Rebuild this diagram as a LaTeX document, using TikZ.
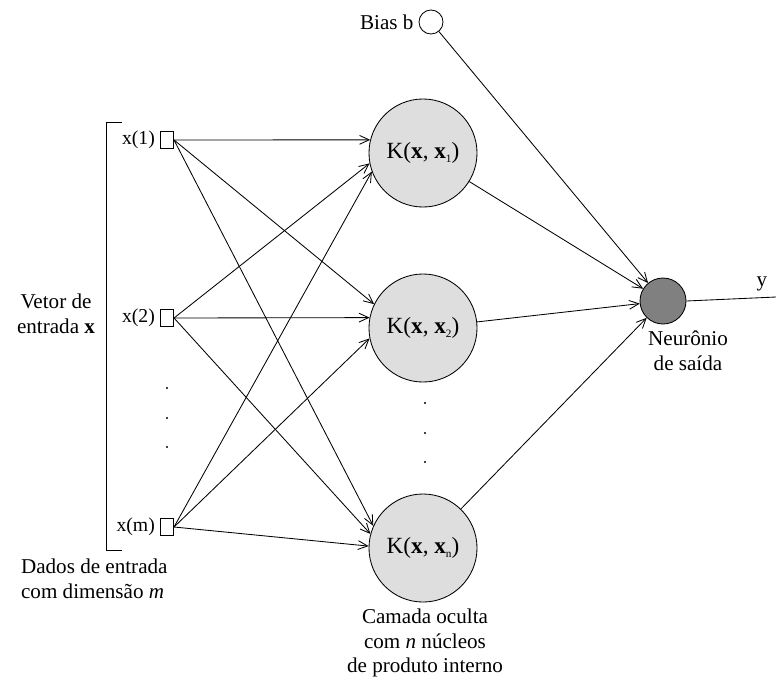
\documentclass[tikz,border=0pt]{standalone}
\usepackage{fontspec}
\setmainfont{Liberation Serif}
\usetikzlibrary{arrows.meta}
\newcommand{\indice}[1]{\raisebox{-0.35ex}{\fontsize{8}{8}\selectfont #1}}
\begin{document}
\begin{tikzpicture}[x=0.025cm, y=-0.025cm,
    line width=0.6pt,
    >={Straight Barb[length=2.4mm,width=2.2mm]},
    entrada/.style={draw, rectangle, minimum width=0.33cm, minimum height=0.41cm, inner sep=0pt},
    nucleo/.style={draw, circle, fill=black!13, minimum size=2.7cm, inner sep=0pt, font=\fontsize{16.5}{18}\selectfont},
    rotulo/.style={font=\fontsize{15}{17.5}\selectfont, align=center}]
    \useasboundingbox (0, 0) rectangle (776, 686);

    % Input vector
    \node[entrada] (in1) at (167, 140) {};
    \node[entrada] (in2) at (167, 318) {};
    \node[entrada] (inm) at (167, 527) {};
    \node[rotulo, anchor=east, font=\fontsize{14}{16}\selectfont] at (in1.west) {x(1)};
    \node[rotulo, anchor=east, font=\fontsize{14}{16}\selectfont] at (in2.west) {x(2)};
    \node[rotulo, anchor=east, font=\fontsize{14}{16}\selectfont] at (inm.west) {x(m)};
    \foreach \y in {388, 418, 447} {
        \fill (167, \y) circle (1.2);
    }

    % Bracket
    \draw (122, 122) -- (106, 122) -- (106, 550) -- (122, 550);
    \node[rotulo] at (56, 314) {Vetor de\\entrada \textbf{x}};
    \node[rotulo, align=left, anchor=north west] at (16, 554) {Dados de entrada\\com dimensão \textit{m}};

    % Hidden layer
    \node[nucleo] (k1) at (423, 153) {K(\textbf{x}, \textbf{x}\indice{1})};
    \node[nucleo] (k2) at (423, 328) {K(\textbf{x}, \textbf{x}\indice{2})};
    \node[nucleo] (kn) at (423, 548) {K(\textbf{x}, \textbf{x}\indice{n})};
    \foreach \y in {403, 433, 462} {
        \fill (425, \y) circle (1.2);
    }
    \node[rotulo, anchor=north] at (425, 604) {Camada oculta\\com \textit{n} núcleos\\de produto interno};

    % Input -> hidden
    \draw[->] (in1.east) -- (k1.166);
    \draw[->] (in2.east) -- (k1.191);
    \draw[->] (inm.east) -- (k1.200);
    \draw[->] (in1.east) -- (k2.154);
    \draw[->] (in2.east) -- (k2.169);
    \draw[->] (inm.east) -- (k2.191);
    \draw[->] (in1.east) -- (kn.156);
    \draw[->] (in2.east) -- (kn.165);
    \draw[->] (inm.east) -- (kn.178);

    % Output neuron
    \node[draw, circle, fill=black!50, minimum size=1.15cm, inner sep=0pt] (out) at (663, 301) {};
    \node[rotulo, anchor=north] at (688, 326) {Neurônio\\de saída};
    \draw[->] (k1) -- (out);
    \draw[->] (k2) -- (out);
    \draw[->] (kn) -- (out);

    % Bias
    \node[draw, circle, minimum size=0.6cm, inner sep=0pt] (bias) at (431, 22) {};
    \node[rotulo, anchor=east] at (bias.west) {Bias b};
    \draw[->] (bias) -- (out);

    % Output y
    \coordinate (saida) at (776, 297);
    \draw (out.east) -- (saida);
    \node[rotulo] at (762, 284) {y};
\end{tikzpicture}
\end{document}
